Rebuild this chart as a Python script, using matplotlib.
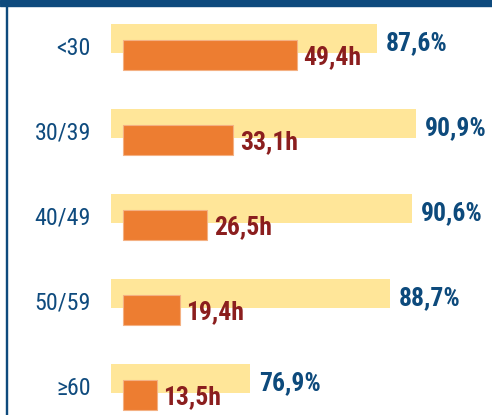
import matplotlib.pyplot as plt
import matplotlib.font_manager as fm
from matplotlib.textpath import TextPath
from matplotlib.patches import Rectangle

# dati
fasce = ['<30', '30/39', '40/49', '50/59', '≥60']
quota_pct = [87.6, 90.9, 90.6, 88.7, 76.9]
ore = [49.4, 33.1, 26.5, 19.4, 13.5]
etichette_pct = ['87,6%', '90,9%', '90,6%', '88,7%', '76,9%']
etichette_ore = ['49,4h', '33,1h', '26,5h', '19,4h', '13,5h']

BLU = '#0F4B7E'
BLU_SCURO = '#0D4A7C'
GIALLO = '#FFE699'
ARANCIO = '#ED7D31'
ROSSO = '#8B1E1E'
CORNICE = '#0E4A7D'


# cerca un font stretto (tipo Arial Narrow), altrimenti Liberation Sans
def trova_font(bold):
    preferiti = ['Liberation Sans Narrow', 'Arial Narrow', 'Roboto Condensed',
                 'Noto Sans', 'Open Sans', 'DejaVu Sans']
    stretti = []
    for f in fm.fontManager.ttflist:
        nome = (f.name + ' ' + f.fname).lower()
        if 'narrow' in nome or 'condensed' in nome or 'condensed' in str(f.stretch):
            if 'semi' in nome or 'extra' in nome or 'ultra' in nome:
                continue
            peso = f.weight if isinstance(f.weight, int) else (700 if 'bold' in str(f.weight) else 400)
            if (peso >= 600) != bold or f.style != 'normal':
                continue
            stretti.append(f)
    for p in preferiti:
        for f in stretti:
            if f.name.startswith(p):
                return fm.FontProperties(fname=f.fname)
    return fm.FontProperties(family='Liberation Sans', weight='bold' if bold else 'normal')


def misura(testo, prop, larghezza_px):
    # dimensione in pt per ottenere la larghezza voluta
    prova = prop.copy()
    prova.set_size(10)
    ext = TextPath((0, 0), testo, prop=prova).get_extents()
    return min(10 * larghezza_px * 0.72 / ext.width, 19)


prop_val = trova_font(True)
prop_cat = trova_font(False)
size_val = misura('90,9%', prop_val, 59.4)
size_cat = misura('30/39', prop_cat, 53.7)
prop_val.set_size(size_val)
prop_cat.set_size(size_cat)

W, H = 492, 415
fig = plt.figure(figsize=(W / 100, H / 100), dpi=100)

# asse percentuali (barre gialle)
ax = fig.add_axes([0, 0, 1, 1])
ax.set_xlim(55.79, 97.34)
ax.set_ylim(4.329, -0.553)
ax.axis('off')

# asse ore (barre arancio), stessa altezza
ax2 = fig.add_axes([0, 0, 1, 1], sharey=ax)
ax2.set_xlim(-26.68, 99.47)
ax2.axis('off')
ax2.patch.set_alpha(0)

pos = list(range(len(fasce)))
base_pct = 65.16
base_ore = 4.94

ax.barh([p - 0.1 for p in pos], [v - base_pct for v in quota_pct], left=base_pct,
        height=0.35, color=GIALLO, edgecolor='none')
ax2.barh([p + 0.094 for p in pos], [v - base_ore for v in ore], left=base_ore,
         height=0.355, color=ARANCIO, edgecolor='#F4B183', linewidth=0.8)

for p, v, t in zip(pos, quota_pct, etichette_pct):
    ax.annotate(t, (v, p - 0.1), xytext=(6.5, -8.1), textcoords='offset points',
                ha='left', va='baseline', color=BLU_SCURO, fontproperties=prop_val)

for p, v, t in zip(pos, ore, etichette_ore):
    ax2.annotate(t, (v, p + 0.094), xytext=(4.7, -6.5), textcoords='offset points',
                 ha='left', va='baseline', color=ROSSO, fontproperties=prop_val)

for p, t in zip(pos, fasce):
    ax.annotate(t, (0, p), xycoords=('figure fraction', 'data'),
                xytext=(91 * 0.72, -5.4), textcoords='offset points',
                ha='right', va='baseline', color=BLU, fontproperties=prop_cat)

# cornice: fascia superiore e bordo sinistro
fig.patches.append(Rectangle((0, 1 - 4.3 / H), 1, 4.3 / H, transform=fig.transFigure,
                             color=CORNICE, zorder=5))
fig.patches.append(Rectangle((0, 1 - 6.3 / H), 1, 1.2 / H, transform=fig.transFigure,
                             color=CORNICE, zorder=5))
fig.patches.append(Rectangle((5.5 / W, 0), 1.3 / W, 1 - 6 / H, transform=fig.transFigure,
                             color=CORNICE, zorder=5))

fig.savefig('out.png', dpi=100)
